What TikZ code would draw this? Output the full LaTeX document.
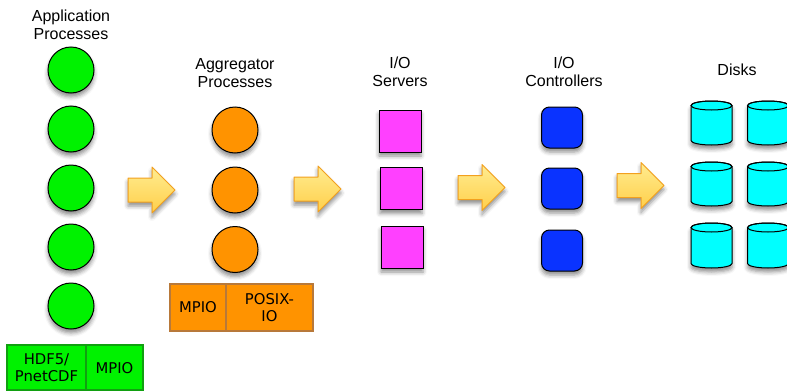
\documentclass[tikz,border=0pt]{standalone}
\usepackage{fontspec}
\setmainfont{Liberation Sans}
\newfontfamily\boxfont{DejaVu Sans}
\usetikzlibrary{shadows.blur}

\definecolor{appgreen}{HTML}{00F200}
\definecolor{appgreenedge}{HTML}{11A011}
\definecolor{agorange}{HTML}{FF9300}
\definecolor{agorangeedge}{HTML}{B8793A}
\definecolor{srvpink}{HTML}{FF40FF}
\definecolor{ctlblue}{HTML}{0A33FF}
\definecolor{diskcyan}{HTML}{00FFFF}
\definecolor{arrowtop}{HTML}{FFEC90}
\definecolor{arrowbot}{HTML}{FFCF4A}
\definecolor{arrowedge}{HTML}{F2A01E}

\tikzset{
  softshadow/.style={blur shadow={shadow xshift=0pt, shadow yshift=-4pt,
      shadow blur radius=4pt, shadow opacity=45}},
  proc/.style={circle, draw=black, line width=1pt, minimum size=46pt,
      inner sep=0pt, softshadow},
  approc/.style={proc, fill=appgreen},
  agproc/.style={proc, fill=agorange},
  server/.style={rectangle, draw=black, line width=1pt, fill=srvpink,
      minimum size=42pt, inner sep=0pt, softshadow},
  ctrl/.style={rectangle, rounded corners=8pt, draw=black, line width=1pt,
      fill=ctlblue, minimum size=41pt, inner sep=0pt, softshadow},
  heading/.style={align=center, font=\fontsize{16}{18}\selectfont},
  cell/.style={align=center, font=\boxfont\fontsize{14.8}{17}\selectfont},
  flowarrow/.style={draw=arrowedge, line width=1pt, line join=round,
      top color=arrowtop, bottom color=arrowbot, softshadow},
  diskbody/.style={draw=black, line width=1pt, fill=diskcyan, softshadow},
}

% block arrow: tail x, centre y
\newcommand{\flowarrow}[2]{%
  \path[flowarrow] (#1,#2-12) -- (#1+24,#2-12) -- (#1+24,#2-23)
    -- (#1+47,#2) -- (#1+24,#2+23) -- (#1+24,#2+12) -- (#1,#2+12) -- cycle;}

% disk: centre x, y of the top rim, y of the bottom rim
\newcommand{\disk}[3]{%
  \path[diskbody] (#1-20.5,#2) -- (#1-20.5,#3)
    arc[start angle=180, end angle=0, x radius=20.5, y radius=4.5]
    -- (#1+20.5,#2)
    arc[start angle=0, end angle=-180, x radius=20.5, y radius=4.5] -- cycle;
  \draw[line width=1pt] (#1,#2) ellipse[x radius=20.5, y radius=4.5];}

\begin{document}
\begin{tikzpicture}[x=1pt, y=-1pt]
\useasboundingbox (0,0) rectangle (787,391);

% application processes
\node[heading] (aphead) at (71,25) {Application\\Processes};
\foreach \i/\y in {1/70,2/129,3/188,4/247,5/306}
  \node[approc] (ap\i) at (71,\y) {};

\draw[draw=appgreenedge, line width=2pt, fill=appgreen] (7,345) rectangle (143,390);
\draw[draw=appgreenedge, line width=2pt] (86,345) -- (86,390);
\node[cell] (hdf) at (46.5,368) {HDF5/\\PnetCDF};
\node[cell] (apmpio) at (114.5,368) {MPIO};

% aggregator processes
\node[heading] (aghead) at (235,73) {Aggregator\\Processes};
\foreach \i/\y in {1/130,2/190,3/249.5}
  \node[agproc] (ag\i) at (235,\y) {};

\draw[draw=agorangeedge, line width=2pt, fill=agorange] (170,284) rectangle (313,331);
\draw[draw=agorangeedge, line width=2pt] (226,284) -- (226,331);
\node[cell] (agmpio) at (198,307.5) {MPIO};
\node[cell] (posix) at (269.5,307.5) {POSIX-\\IO};

% I/O servers
\node[heading] (srvhead) at (400,72) {I/O\\Servers};
\node[server] (srv1) at (400,131) {};
\node[server] (srv2) at (401,188.5) {};
\node[server] (srv3) at (402,247) {};

% I/O controllers
\node[heading] (ctlhead) at (564,72) {I/O\\Controllers};
\foreach \i/\y in {1/127.5,2/188.5,3/250.5}
  \node[ctrl] (ctl\i) at (562,\y) {};

% disks
\node[heading] (diskhead) at (737,70) {Disks};
\foreach \top/\bot in {105.5/140.5, 166.5/201.5, 227.5/263.5} {
  \disk{711.5}{\top}{\bot}
  \disk{768}{\top}{\bot}
}

% flow arrows between the stages
\flowarrow{128}{190}
\flowarrow{294}{189}
\flowarrow{458}{187.5}
\flowarrow{617}{185.5}
\end{tikzpicture}
\end{document}
